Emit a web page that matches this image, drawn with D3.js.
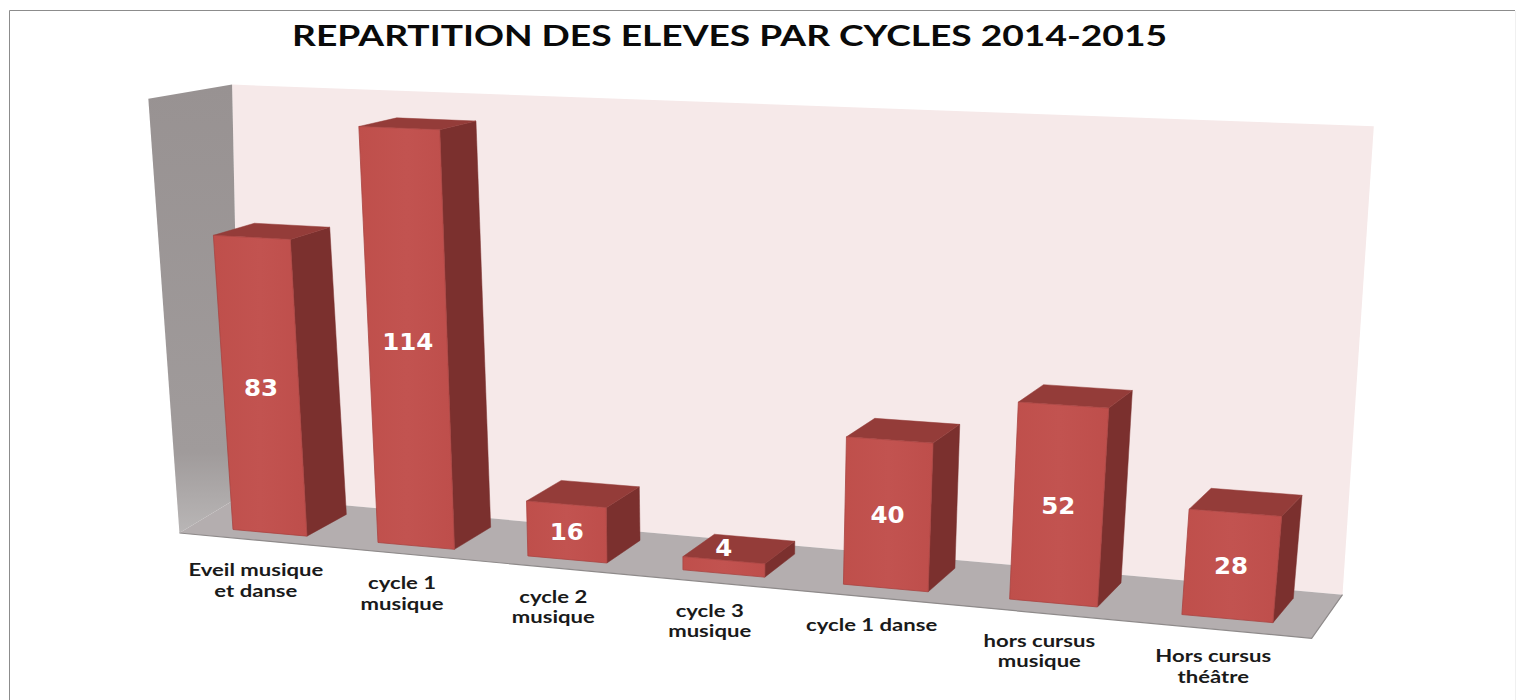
<!DOCTYPE html>
<html><head><meta charset="utf-8">
<script src="https://cdn.jsdelivr.net/npm/d3@7/dist/d3.min.js"></script>
<style>html,body{margin:0;padding:0;background:#fff;overflow:hidden}svg{display:block}</style>
</head><body><div id="c"></div>
<script>
const titleText = "REPARTITION DES ELEVES PAR CYCLES 2014-2015";
const categories = ["Eveil musique|et danse","cycle 1|musique","cycle 2|musique","cycle 3|musique","cycle 1 danse","hors cursus|musique","Hors cursus|théâtre"];
const values = [83,114,16,4,40,52,28];

const W=1517,H=700;
const svg=d3.select("#c").append("svg").attr("width",W).attr("height",H);
const defs=svg.append("defs");
const g1=defs.append("linearGradient").attr("id","side").attr("x1",0).attr("y1",0).attr("x2",0).attr("y2",1);
g1.append("stop").attr("offset","0%").attr("stop-color","#989292");
g1.append("stop").attr("offset","82%").attr("stop-color","#a09b9b");
g1.append("stop").attr("offset","100%").attr("stop-color","#b9b6b6");
const g2=defs.append("linearGradient").attr("id","front").attr("x1",0).attr("y1",0).attr("x2",1).attr("y2",0);
g2.append("stop").attr("offset","0%").attr("stop-color","#bf4f4b");
g2.append("stop").attr("offset","50%").attr("stop-color","#c25350");
g2.append("stop").attr("offset","100%").attr("stop-color","#be4e4b");

// Perspective camera: category position u, value v, depth w
const C=-0.01637;
const xFloor=d3.scaleLinear().domain([0,1]).range([233,233+138.8]);
const yFloor=d3.scaleLinear().domain([0,1]).range([529.5,529.5+4.11]);
const barW=0.5145;
const vScale=d3.scalePow().exponent(1.04).domain([0,1]).range([0,2.97]);
const depthX=d3.scaleLinear().domain([0,6]).range([41,22]);
function project(u,v,w){
  const p=1+C*u;
  const xb=xFloor(u)/p, yb=yFloor(u)/p;
  const h=vScale(v)/p;
  const x=xb+(xb-700)/7000*h;
  const y=yb-h;
  const dy=22+0.032*(y-545);
  return [x+w*depthX(u), y-w*dy];
}
const line=d3.line();
const poly=pts=>line(pts)+"Z";

// Frame
svg.append("path").attr("d","M9.5,700V10.5H1515").attr("fill","none").attr("stroke","#8c8c8c").attr("stroke-width",1);
svg.append("line").attr("x1",1515.5).attr("x2",1515.5).attr("y1",11).attr("y2",700).attr("stroke","#f0f0f0");

// Wall and floor corners, in camera coordinates
const frontLeftFloor=project(-0.28,0,-0.33), frontLeftTop=project(-0.28,120,-0.33);
const backLeftFloor=project(-0.35,0,1.36), backLeftTop=project(-0.19,120.5,1.36);
const backRightFloor=project(6.76,0,1.3), backRightTop=project(6.69,120.5,1.38);
const frontRightFloor=project(6.78,0,-0.46);

const walls=svg.append("g");
walls.append("path").attr("d",poly([backLeftFloor,backLeftTop,backRightTop,backRightFloor])).attr("fill","#f6e9e9");
walls.append("path").attr("d",poly([frontLeftFloor,frontLeftTop,backLeftTop,backLeftFloor])).attr("fill","url(#side)");
walls.append("path").attr("d",poly([frontLeftFloor,backLeftFloor,backRightFloor,frontRightFloor])).attr("fill","#b4aeaf");
walls.append("path").attr("d",line([frontLeftFloor,frontRightFloor,backRightFloor])).attr("fill","none").attr("stroke","#8e8a8a").attr("stroke-width",1.2);

// Bars
const bars=svg.append("g").selectAll("g").data(values).join("g");
bars.append("path").attr("fill","#7b302e").attr("stroke","#7b302e").attr("stroke-width",.5)
  .attr("d",(v,i)=>poly([project(i+barW,0,0),project(i+barW,v,0),project(i+barW,v,1),project(i+barW,0,1)]));
bars.append("path").attr("fill","#943c39").attr("stroke","#943c39").attr("stroke-width",.5)
  .attr("d",(v,i)=>poly([project(i,v,0),project(i,v,1),project(i+barW,v,1),project(i+barW,v,0)]));
bars.append("path").attr("fill","url(#front)").attr("stroke","#a94441").attr("stroke-width",.8)
  .attr("d",(v,i)=>poly([project(i,0,0),project(i,v,0),project(i+barW,v,0),project(i+barW,0,0)]));
bars.append("text").text(v=>v)
  .attr("transform",(v,i)=>{
    const c=project(i+barW/2,v/2,0);
    // a face too short for its label: the label sits on the top face
    const y=v<10?project(i+barW/2,v,0.5)[1]:c[1];
    return `translate(${c[0]},${y+7}) scale(1.09,1)`;
  })
  .attr("text-anchor","middle").attr("fill","#fff").attr("font-family","DejaVu Sans")
  .attr("font-weight","bold").attr("font-size",22.5);

// Category labels
const labels=svg.append("g").selectAll("text").data(categories).join("text")
  .attr("text-anchor","middle").attr("font-family","Lato").attr("font-size",17).attr("font-weight","bold")
  .attr("fill","#1a1a1a")
  .attr("transform",(c,i)=>{const p=project(i+barW/2,0,0);return `translate(${p[0]-14},${p[1]+43.5}) scale(1.3,1)`;});
labels.selectAll("tspan").data(c=>c.split("|")).join("tspan")
  .attr("x",0).attr("dy",(d,i)=>i?20.5:0).text(d=>d);

// Title
svg.append("text").text(titleText).attr("x",729.5).attr("y",46).attr("text-anchor","middle")
  .attr("textLength",875).attr("lengthAdjust","spacingAndGlyphs")
  .attr("font-family","Lato").attr("font-weight","bold").attr("font-size",28).attr("fill","#0a0a0a");
</script></body></html>
